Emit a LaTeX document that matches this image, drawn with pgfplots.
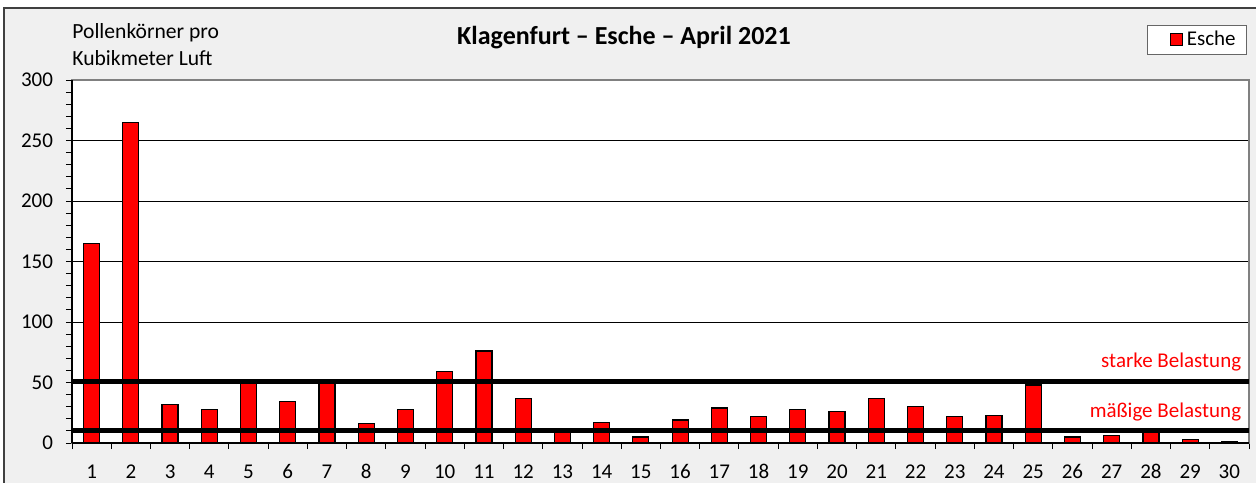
\documentclass[border=0pt]{standalone}
\usepackage{pgfplots}
\pgfplotsset{compat=1.18}
\usepackage{fontspec}
\setmainfont{Carlito}
\definecolor{bggray}{HTML}{F0F0F0}
\newcommand{\lfont}{\fontsize{10.5bp}{12.6bp}\selectfont}
\begin{document}
\begin{tikzpicture}
\useasboundingbox (0,0) rectangle (628bp,241.5bp);
\fill[white] (0,0) rectangle (628bp,241.5bp);
\fill[bggray] (2bp,0) rectangle (628bp,237.5bp);
\draw[black!75, line width=0.8bp] (2bp,0) -- (2bp,237.5bp) -- (628bp,237.5bp);
\node[anchor=base west, inner sep=0pt, font=\fontsize{10.8bp}{13bp}\selectfont] at (36bp,222.2bp) {Pollenkörner pro};
\node[anchor=base west, inner sep=0pt, font=\fontsize{10.8bp}{13bp}\selectfont] at (36bp,208.5bp) {Kubikmeter Luft};
\node[anchor=base, inner sep=0pt, font=\fontsize{13bp}{15.6bp}\selectfont\bfseries] at (312bp,219bp) {Klagenfurt – Esche – April 2021};
\begin{axis}[
  at={(36bp,20bp)}, anchor=south west, scale only axis,
  width=588.5bp, height=181.5bp,
  xmin=0.5, xmax=30.5, ymin=0, ymax=300,
  axis background/.style={fill=white},
  xtick={0.5,1.5,...,30.5}, x tick label as interval,
  xticklabels={1,2,3,4,5,6,7,8,9,10,11,12,13,14,15,16,17,18,19,20,21,22,23,24,25,26,27,28,29,30},
  ytick={0,50,...,300}, minor y tick num=4,
  xtick pos=bottom, ytick pos=left,
  ymajorgrids, grid style={black, line width=0.5bp},
  tick align=outside, major tick length=3bp, minor tick length=3bp,
  tick style={black, line width=0.5bp},
  minor tick style={black, line width=0.5bp},
  axis line style={black!50, line width=0.6bp},
  tick label style={font=\lfont},
  /pgf/number format/assume math mode=true,
  yticklabel style={xshift=-3bp},
  xticklabel style={yshift=-7.5bp, inner ysep=0pt, text height=7bp, text depth=0bp},
  legend style={at={(0.9983,1.1515)}, anchor=north east, draw=black!60, fill=white,
    font=\lfont, inner xsep=3.5bp, inner ysep=0.8bp},
  legend image code/.code={\path (0bp,0bp); \draw[fill=red, draw=black, line width=0.5bp] (7.5bp,-3bp) rectangle (13.5bp,3bp);},
  clip=false,
]
\addplot[ybar, bar width=8bp, fill=red, draw=black, line width=0.6bp] coordinates {
 (1,165) (2,265) (3,32) (4,28) (5,50) (6,34) (7,50) (8,16) (9,28) (10,59)
 (11,76) (12,37) (13,9) (14,17) (15,5) (16,19) (17,29) (18,22) (19,28) (20,26)
 (21,37) (22,30) (23,22) (24,23) (25,48) (26,5) (27,6) (28,11) (29,3) (30,1)
};
\addlegendentry{Esche}
\addplot[forget plot, black, line width=2.5bp] coordinates {(0.5,50.5) (30.5,50.5)};
\addplot[forget plot, black, line width=2.5bp] coordinates {(0.5,10.7) (30.5,10.7)};
\draw[black, line width=0.6bp] (rel axis cs:0,0) -- (rel axis cs:0,1);
\draw[black, line width=0.6bp] (rel axis cs:0,0) -- (rel axis cs:1,0);
\node[anchor=east, inner sep=0pt, text=red, font=\lfont] at (axis cs:30.31,67) {starke Belastung};
\node[anchor=east, inner sep=0pt, text=red, font=\lfont] at (axis cs:30.31,26) {mäßige Belastung};
\end{axis}
\end{tikzpicture}
\end{document}
